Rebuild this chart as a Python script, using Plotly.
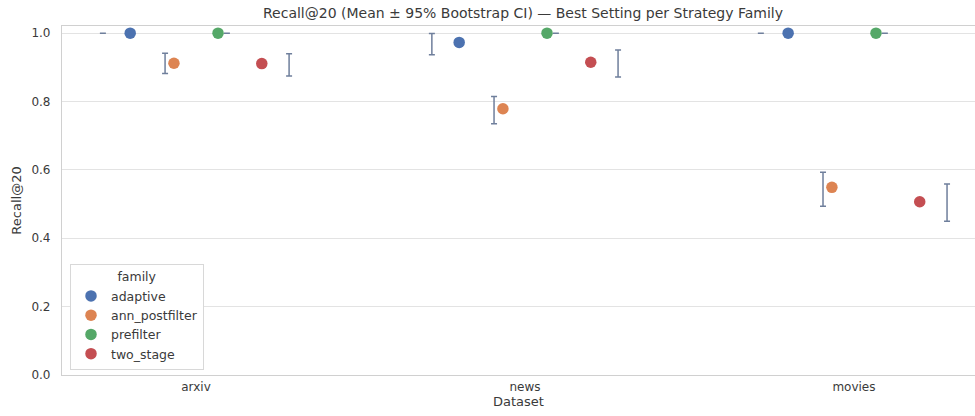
import plotly.graph_objects as go

# Recall@20 per dataset and strategy family (mean with 95% bootstrap CI)
datasets = ["arxiv", "news", "movies"]
families = ["adaptive", "ann_postfilter", "prefilter", "two_stage"]
colors = ["#4C72B0", "#DD8452", "#55A868", "#C44E52"]

mean_recall = {
    "adaptive":       [1.000, 0.973, 1.000],
    "ann_postfilter": [0.912, 0.779, 0.549],
    "prefilter":      [1.000, 1.000, 1.000],
    "two_stage":      [0.911, 0.915, 0.507],
}
ci_low = {
    "adaptive":       [1.000, 0.937, 1.000],
    "ann_postfilter": [0.882, 0.735, 0.494],
    "prefilter":      [1.000, 1.000, 1.000],
    "two_stage":      [0.875, 0.872, 0.450],
}
ci_high = {
    "adaptive":       [1.000, 0.999, 1.000],
    "ann_postfilter": [0.941, 0.815, 0.593],
    "prefilter":      [1.000, 1.000, 1.000],
    "two_stage":      [0.940, 0.951, 0.559],
}

# dodge offsets: markers and error bars use different dodge widths
point_offsets = [-0.2, -0.067, 0.067, 0.2]
err_offsets = [-0.283, -0.094, 0.094, 0.283]

fig = go.Figure()
base_x = list(range(len(datasets)))

for k, fam in enumerate(families):
    m = mean_recall[fam]
    lo = ci_low[fam]
    hi = ci_high[fam]
    fig.add_trace(go.Scatter(
        x=[b + err_offsets[k] for b in base_x],
        y=m,
        mode="markers",
        marker=dict(size=1, color="rgba(0,0,0,0)"),
        error_y=dict(
            type="data",
            symmetric=False,
            array=[h - v for h, v in zip(hi, m)],
            arrayminus=[v - l for v, l in zip(m, lo)],
            color="#6f7f9c",
            thickness=1.5,
            width=3,
        ),
        showlegend=False,
        hoverinfo="skip",
    ))

for k, fam in enumerate(families):
    fig.add_trace(go.Scatter(
        x=[b + point_offsets[k] for b in base_x],
        y=mean_recall[fam],
        mode="markers",
        name=fam,
        marker=dict(size=11.5, color=colors[k], line=dict(width=0)),
    ))

font_color = "#3a3a3a"
fig.update_layout(
    width=975,
    height=416,
    margin=dict(l=62, r=0, t=26, b=41),
    paper_bgcolor="white",
    plot_bgcolor="white",
    font=dict(family="DejaVu Sans", size=12, color=font_color),
    title=dict(
        text="Recall@20 (Mean ± 95% Bootstrap CI) — Best Setting per Strategy Family",
        x=523 / 975,
        xanchor="center",
        y=1 - 13 / 416,
        yanchor="middle",
        font=dict(size=14, color=font_color),
    ),
    xaxis=dict(
        range=[-0.4073, 2.368],
        tickvals=base_x,
        ticktext=datasets,
        showgrid=False,
        zeroline=False,
        showline=True,
        mirror=True,
        linecolor="#d0d0d0",
        linewidth=1.2,
        ticks="",
        title=dict(text="Dataset", font=dict(size=13, color=font_color), standoff=4),
    ),
    yaxis=dict(
        range=[0, 1.021],
        tickvals=[0.0, 0.2, 0.4, 0.6, 0.8, 1.0],
        ticktext=["0.0", "0.2", "0.4", "0.6", "0.8", "1.0"],
        showgrid=True,
        gridcolor="#e3e3e3",
        gridwidth=1.3,
        zeroline=False,
        showline=True,
        linecolor="#d0d0d0",
        linewidth=1.2,
        ticks="",
        ticklabelstandoff=8,
        title=dict(text="Recall@20", font=dict(size=13, color=font_color), standoff=6),
    ),
    legend=dict(
        x=8 / 913,
        y=5 / 349,
        xanchor="left",
        yanchor="bottom",
        bgcolor="white",
        bordercolor="#d8d8d8",
        borderwidth=1,
        font=dict(size=12.5, color=font_color),
        title=dict(text="family", side="top center", font=dict(size=12.5, color=font_color)),
        itemsizing="trace",
    ),
)

fig.write_html("out.html")
